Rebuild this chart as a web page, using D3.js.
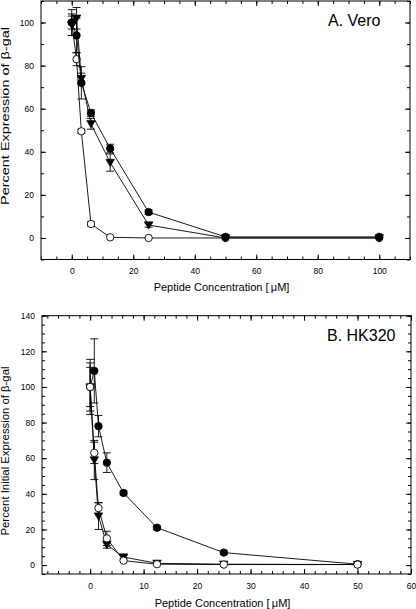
<!DOCTYPE html>
<html><head><meta charset="utf-8">
<script src="https://cdn.jsdelivr.net/npm/d3@7"></script>
<style>
body{margin:0;background:#fff;}
svg{display:block;}
text{font-family:"Liberation Sans",Arial,sans-serif;fill:#000;}
</style></head>
<body>
<svg id="chart" width="416" height="609"></svg>
<script>
// ---------- Panel A: Vero ----------
const veroX = [0, 1.56, 3.125, 6.25, 12.5, 25, 50, 100];
const veroFilled = [100, 94, 72, 58, 41.5, 12, 0.5, 0.5];
const veroFilledErr = [6, 8, 7.5, 1.5, 2, 1, 0.5, 0.5];
const veroTri = [99, 102, 74, 53, 35, 6, 0, 0];
const veroTriErr = [5, 5, 2.5, 2.5, 4, 1, 0.3, 0.3];
const veroOpen = [100, 83, 49.5, 6.5, 0.3, 0, 0, 0];
const veroOpenErr = [3, 3, 1, 1, 0.3, 0, 0, 0];
const veroXTicks = [0, 20, 40, 60, 80, 100];
const veroYTicks = [0, 20, 40, 60, 80, 100];

// ---------- Panel B: HK320 ----------
const hkX = [0, 0.78, 1.56, 3.125, 6.25, 12.5, 25, 50];
const hkFilled = [100, 109, 78, 57.5, 40.5, 21, 7, 0.5];
const hkFilledErr = [15.5, 18, 6, 5.5, 1, 1, 1, 0.5];
const hkTri = [100, 59, 27.5, 11.5, 4.5, 1, 0.5, 0.3];
const hkTriErr = [11, 11, 7.5, 2, 1, 0.5, 0.3, 0.3];
const hkOpen = [100, 63, 32, 15, 2.5, 0.5, 0.3, 0.3];
const hkOpenErr = [13.5, 6, 3, 4, 0.5, 0.3, 0.3, 0.3];
const hkXTicks = [0, 10, 20, 30, 40, 50, 60];
const hkYTicks = [0, 20, 40, 60, 80, 100, 120, 140];

const svg = d3.select("#chart");

function panel(cfg) {
  const g = svg.append("g");
  const x = d3.scaleLinear().domain(cfg.xDomain).range([cfg.left, cfg.right]);
  const y = d3.scaleLinear().domain(cfg.yDomain).range([cfg.bottom, cfg.top]);

  // frame
  g.append("rect").attr("x", cfg.left).attr("y", cfg.top)
    .attr("width", cfg.right - cfg.left).attr("height", cfg.bottom - cfg.top)
    .attr("fill", "none").attr("stroke", "#000").attr("stroke-width", 1);

  const xMinor = d3.range(Math.ceil(cfg.xDomain[0] / cfg.xMinor) * cfg.xMinor, cfg.xDomain[1] + 1e-9, cfg.xMinor);
  const yMinor = d3.range(Math.ceil(cfg.yDomain[0] / cfg.yMinor) * cfg.yMinor, cfg.yDomain[1] + 1e-9, cfg.yMinor);

  const axB = d3.axisBottom(x).tickValues(cfg.xTicks).tickSize(-5).tickPadding(cfg.xPad).tickFormat(d3.format("d"));
  const axBm = d3.axisBottom(x).tickValues(xMinor).tickSize(-3).tickFormat("");
  const axT = d3.axisTop(x).tickValues(cfg.xTicks).tickSize(-5).tickFormat("");
  const axTm = d3.axisTop(x).tickValues(xMinor).tickSize(-3).tickFormat("");
  const axL = d3.axisLeft(y).tickValues(cfg.yTicks).tickSize(-5).tickPadding(7).tickFormat(d3.format("d"));
  const axLm = d3.axisLeft(y).tickValues(yMinor).tickSize(-3).tickFormat("");
  const axR = d3.axisRight(y).tickValues(cfg.yTicks).tickSize(-5).tickFormat("");
  const axRm = d3.axisRight(y).tickValues(yMinor).tickSize(-3).tickFormat("");

  const put = (ax, tx, ty) => {
    const a = g.append("g").attr("transform", `translate(${tx},${ty})`).call(ax);
    a.select(".domain").remove();
    a.selectAll("line").attr("stroke", "#000");
    a.selectAll("text").attr("font-size", 8.5).attr("font-family", '"Liberation Sans",Arial,sans-serif').attr("fill", "#000");
    return a;
  };
  put(axBm, 0, cfg.bottom); put(axB, 0, cfg.bottom);
  put(axTm, 0, cfg.top); put(axT, 0, cfg.top);
  put(axLm, cfg.left, 0); put(axL, cfg.left, 0);
  put(axRm, cfg.right, 0); put(axR, cfg.right, 0);

  // titles
  g.append("text").attr("x", (cfg.left + cfg.right) / 2 - 4).attr("y", cfg.xTitleY)
    .attr("text-anchor", "middle").attr("font-size", 11).text("Peptide Concentration [\u2009\u03bcM]");
  g.append("text").attr("transform", `translate(${cfg.yTitleX},${cfg.yTitleMid}) rotate(-90)`)
    .attr("text-anchor", "middle").attr("font-size", 11)
    .attr("textLength", cfg.yTitleLen).attr("lengthAdjust", "spacingAndGlyphs")
    .text(cfg.yTitle);
  g.append("text").attr("x", cfg.labelX).attr("y", cfg.labelY).attr("font-size", 16).text(cfg.label);

  const line = d3.line().x(d => x(d[0])).y(d => y(d[1]));

  cfg.series.forEach(s => {
    const pts = cfg.xs.map((xv, i) => [xv, s.vals[i], s.err[i]]);
    const sg = g.append("g");
    pts.forEach(p => {
      if (p[2] <= 0.6) return;
      const cx = x(p[0]), y1 = y(p[1] + p[2]), y2 = y(p[1] - p[2]);
      sg.append("line").attr("x1", cx).attr("x2", cx).attr("y1", y1).attr("y2", y2).attr("stroke", "#000").attr("stroke-width", 0.9);
      [y1, y2].forEach(yy => sg.append("line").attr("x1", cx - 4).attr("x2", cx + 4).attr("y1", yy).attr("y2", yy).attr("stroke", "#000").attr("stroke-width", 0.9));
    });
    sg.append("path").attr("d", line(pts)).attr("fill", "none").attr("stroke", "#000").attr("stroke-width", 0.9);
    pts.forEach(p => {
      const cx = x(p[0]), cy = y(p[1]);
      if (s.type === "tri") {
        const r = 4.3;
        sg.append("path").attr("d", `M${cx - r},${cy - r * 0.75}L${cx + r},${cy - r * 0.75}L${cx},${cy + r * 0.95}Z`)
          .attr("fill", "#000").attr("stroke", "#000").attr("stroke-width", 0.6);
      } else {
        sg.append("circle").attr("cx", cx).attr("cy", cy).attr("r", 3.7)
          .attr("fill", s.type === "open" ? "#fff" : "#000").attr("stroke", "#000").attr("stroke-width", 0.9);
      }
    });
  });
}

panel({
  left: 41, right: 410, top: 1, bottom: 259.5,
  xDomain: [-10, 110], yDomain: [-10, 110], xMinor: 5, yMinor: 10,
  xTicks: veroXTicks, yTicks: veroYTicks, xPad: 8,
  xTitleY: 291, yTitleX: 9, yTitleMid: 116, yTitleLen: 178,
  yTitle: "Percent Expression of \u03b2-gal",
  label: "A. Vero", labelX: 328, labelY: 26,
  xs: veroX,
  series: [
    {type: "open", vals: veroOpen, err: veroOpenErr},
    {type: "tri", vals: veroTri, err: veroTriErr},
    {type: "filled", vals: veroFilled, err: veroFilledErr}
  ]
});

panel({
  left: 42, right: 411, top: 315.7, bottom: 574,
  xDomain: [-9, 60], yDomain: [-5, 140], xMinor: 2, yMinor: 5,
  xTicks: hkXTicks, yTicks: hkYTicks, xPad: 9,
  xTitleY: 607, yTitleX: 9, yTitleMid: 451, yTitleLen: 169,
  yTitle: "Percent Initial Expression of \u03b2-gal",
  label: "B. HK320", labelX: 327, labelY: 341,
  xs: hkX,
  series: [
    {type: "filled", vals: hkFilled, err: hkFilledErr},
    {type: "tri", vals: hkTri, err: hkTriErr},
    {type: "open", vals: hkOpen, err: hkOpenErr}
  ]
});
</script>
</body></html>
